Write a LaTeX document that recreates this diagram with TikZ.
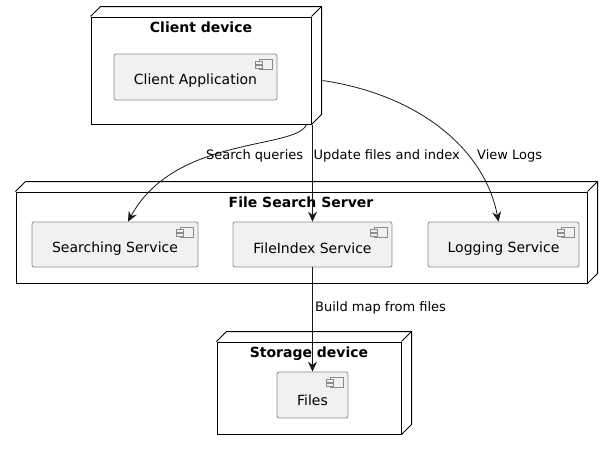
\documentclass[tikz,border=0pt]{standalone}
\usepackage{fontspec}
\setmainfont{DejaVu Sans}
\usetikzlibrary{arrows.meta,calc}

\definecolor{compfill}{HTML}{F1F1F1}
\definecolor{compline}{HTML}{8C8C8C}
\definecolor{ink}{HTML}{181818}

\tikzset{
  devnode/.style={draw=black, line width=1pt, fill=white, inner sep=0pt},
  devline/.style={draw=black, line width=1pt, line join=miter},
  devtitle/.style={font=\fontsize{14pt}{16pt}\selectfont\bfseries, inner sep=0pt},
  compbox/.style={draw=compline, fill=compfill, line width=0.8pt, rounded corners=2pt, inner sep=0pt, minimum height=46pt},
  comptext/.style={font=\fontsize{14pt}{16pt}\selectfont, inner sep=0pt, text=black},
  link/.style={draw=ink, line width=0.8pt, -{Stealth[length=10pt,width=9pt,inset=3.5pt]}},
  linklabel/.style={font=\fontsize{13pt}{15pt}\selectfont, inner sep=0pt, anchor=west, text=black},
}

% back faces of a 3D deployment node
\newcommand\devback[1]{%
  \draw[devline] (#1.north west) -- ++(10pt,10pt) -- ($(#1.north east)+(10pt,10pt)$)
     -- ($(#1.south east)+(10pt,10pt)$) -- (#1.south east);
  \draw[devline] (#1.north east) -- ++(10pt,10pt);
}
% small component glyph in the upper right corner
\newcommand\compicon[1]{%
  \draw[compline, line width=0.7pt, fill=compfill]
     ($(#1.north east)+(-18pt,-6pt)$) rectangle ($(#1.north east)+(-5pt,-16pt)$);
  \draw[compline, line width=0.7pt, fill=compfill]
     ($(#1.north east)+(-22pt,-8pt)$) rectangle ($(#1.north east)+(-15pt,-10.5pt)$);
  \draw[compline, line width=0.7pt, fill=compfill]
     ($(#1.north east)+(-22pt,-12pt)$) rectangle ($(#1.north east)+(-15pt,-14.5pt)$);
}

\begin{document}
\begin{tikzpicture}[x=1pt, y=-1pt]
  \useasboundingbox (0,0) rectangle (612,450);

  % client device
  \node[devnode, minimum width=220pt, minimum height=107pt] (client) at (201,70.5) {};
  \devback{client}
  \node[devtitle] (clienttitle) at (201,27) {Client device};
  \node[compbox, minimum width=163pt] (app) at (195.5,77) {};
  \node[comptext] (apptext) at (195.5,81) {Client Application};
  \compicon{app}

  % file search server
  \node[devnode, minimum width=571pt, minimum height=91pt] (server) at (301.5,237.5) {};
  \devback{server}
  \node[devtitle] (servertitle) at (301,202) {File Search Server};
  \node[compbox, minimum width=166pt, minimum height=45pt] (search) at (115,244.5) {};
  \node[comptext] (searchtext) at (115,248.5) {Searching Service};
  \compicon{search}
  \node[compbox, minimum width=159pt, minimum height=45pt] (index) at (312.5,244.5) {};
  \node[comptext] (indextext) at (312.5,248.5) {FileIndex Service};
  \compicon{index}
  \node[compbox, minimum width=151pt, minimum height=45pt] (logging) at (503.5,244.5) {};
  \node[comptext] (loggingtext) at (503.5,248.5) {Logging Service};
  \compicon{logging}

  % storage device
  \node[devnode, minimum width=184pt, minimum height=92pt] (storage) at (309,388) {};
  \devback{storage}
  \node[devtitle] (storagetitle) at (309,354) {Storage device};
  \node[compbox, minimum width=71pt] (files) at (312.5,395) {};
  \node[comptext] (filestext) at (312.5,400) {Files};
  \compicon{files}

  % connectors
  \draw[link] ($(client.south east)+(-5pt,0pt)$)
      .. controls (296,150) and (175,135) .. ($(search.north)+(13pt,0pt)$);
  \draw[link] (index.north |- client.south) -- (index.north);
  \draw[link] ($(client.east)+(11pt,-10pt)$)
      .. controls (420,95) and (485,150) .. ($(logging.north)+(-5pt,0pt)$);
  \draw[link] (index.south) -- (files.north);

  % connector labels
  \node[linklabel] (lblsearch) at (206,156) {Search queries};
  \node[linklabel] (lblupdate) at (313.5,156) {Update files and index};
  \node[linklabel] (lbllogs) at (477,156) {View Logs};
  \node[linklabel] (lblbuild) at (315,308) {Build map from files};
\end{tikzpicture}
\end{document}
